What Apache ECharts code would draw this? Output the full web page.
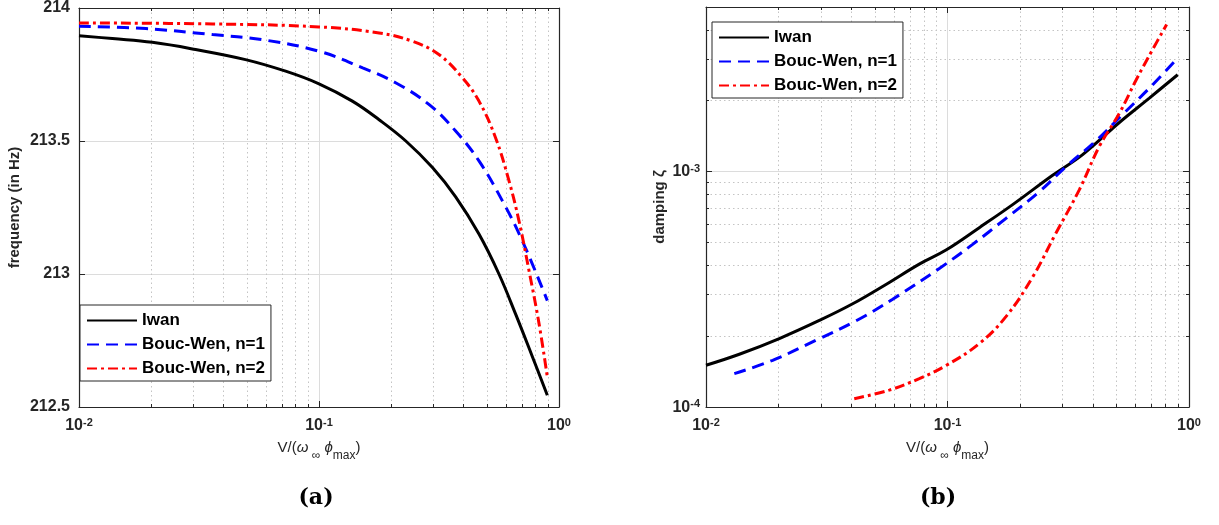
<!DOCTYPE html>
<html><head><meta charset="utf-8">
<script src="https://cdn.jsdelivr.net/npm/echarts@6/dist/echarts.min.js"></script>
<style>html,body{margin:0;padding:0;background:#fff}#c{width:1219px;height:525px}</style>
</head><body><div id="c"></div>
<script>
// ---------- data ----------
const seriesNames = ['Iwan', 'Bouc-Wen, n=1', 'Bouc-Wen, n=2'];

// (a) frequency (Hz) vs V/(w phi_max)
const freqIwanX = [0.01, 0.01377, 0.0202, 0.0306, 0.0494, 0.0726, 0.1, 0.1377, 0.178, 0.23, 0.297, 0.371, 0.464, 0.562, 0.659, 0.774, 0.894];
const freqIwanY = [213.896, 213.885, 213.871, 213.844, 213.806, 213.7625, 213.715, 213.65, 213.58, 213.50, 213.40, 213.29, 213.15, 213.0, 212.85, 212.69, 212.544];
const freqBW1X = [0.01, 0.019, 0.036, 0.058, 0.1, 0.152, 0.2085, 0.287, 0.371, 0.464, 0.581, 0.703, 0.894];
const freqBW1Y = [213.931, 213.9225, 213.90, 213.881, 213.8375, 213.775, 213.719, 213.6375, 213.5375, 213.425, 213.275, 213.125, 212.90];
const freqBW2X = [0.01, 0.036, 0.1, 0.178, 0.245, 0.316, 0.396, 0.464, 0.544, 0.619, 0.681, 0.75, 0.826, 0.894];
const freqBW2Y = [213.944, 213.94, 213.929, 213.906, 213.875, 213.825, 213.7375, 213.65, 213.5125, 213.35, 213.20, 213.0125, 212.8125, 212.6125];

// (b) damping vs V/(w phi_max)
const dampIwanX = [0.01, 0.01374, 0.02012, 0.02947, 0.0405, 0.05562, 0.07641, 0.09858, 0.1354, 0.1861, 0.2725, 0.3628, 0.5147, 0.6851, 0.8977];
const dampIwanY = [1.504e-4, 1.675e-4, 1.953e-4, 2.331e-4, 2.744e-4, 3.316e-4, 4.046e-4, 4.642e-4, 5.778e-4, 7.238e-4, 9.647e-4, 1.181e-3, 1.616e-3, 2.051e-3, 2.578e-3];
const dampBW1X = [0.0131, 0.01888, 0.02854, 0.0418, 0.05929, 0.09252, 0.1271, 0.1747, 0.2401, 0.3096, 0.412, 0.5313, 0.7075, 0.8977];
const dampBW1Y = [1.386e-4, 1.579e-4, 1.921e-4, 2.323e-4, 2.871e-4, 3.879e-4, 4.907e-4, 6.331e-4, 8.22e-4, 1.05e-3, 1.35e-3, 1.748e-3, 2.337e-3, 3.036e-3];
const dampBW2X = [0.0411, 0.0574, 0.0764, 0.0986, 0.1355, 0.1746, 0.2254, 0.281, 0.3513, 0.4254, 0.515, 0.604, 0.707, 0.808];
const dampBW2Y = [1.085e-4, 1.18e-4, 1.32e-4, 1.50e-4, 1.86e-4, 2.42e-4, 3.57e-4, 5.47e-4, 8.36e-4, 1.28e-3, 1.77e-3, 2.45e-3, 3.30e-3, 4.21e-3];

const freqTicks = [212.5, 213, 213.5, 214];
const captions = ['(a)', '(b)'];

// ---------- style ----------
const AX = '#262626';
const FONT = '"Liberation Sans", Arial, sans-serif';
const colors = ['#000000', '#0000ff', '#ff0000'];
const dashes = ['solid', [12, 7], [10, 4, 3, 4]];
const zip = (xs, ys) => xs.map((x, i) => [x, ys[i]]);

const powRich = {
  b: {fontSize: 16, fontWeight: 'bold', color: AX, fontFamily: FONT, lineHeight: 17, verticalAlign: 'bottom'},
  s: {fontSize: 11, fontWeight: 'bold', color: AX, fontFamily: FONT, verticalAlign: 'top', lineHeight: 17}
};
function powFmt(v) {
  const l = Math.log10(v), e = Math.round(l);
  if (Math.abs(l - e) > 1e-6) return '';
  return '{b|10}{s|' + e + '}';
}
const nameRich = {
  t: {fontSize: 15, color: AX, fontFamily: FONT, verticalAlign: 'top', lineHeight: 22},
  i: {fontSize: 15, color: AX, fontFamily: FONT, fontStyle: 'italic', verticalAlign: 'top', lineHeight: 22},
  sub: {fontSize: 12, color: AX, fontFamily: FONT, verticalAlign: 'bottom', lineHeight: 22}
};
const xName = '{t|V/(}{i|ω}{sub| ∞}{t| }{i|ϕ}{sub|max}{t|)}';

const axLine = {show: true, onZero: false, lineStyle: {color: AX, width: 1.2}};
const axTick = {show: true, inside: true, length: 6, lineStyle: {color: AX, width: 1}};
const majorSplit = {show: true, lineStyle: {color: '#dcdcdc', width: 1}};
const minorTk = {show: true, splitNumber: 9, length: 3, lineStyle: {color: AX, width: 1}};
const minorSplit = {show: true, lineStyle: {color: '#c4c4c4', width: 1, type: [1.5, 3]}};

function xBottom(gi) {
  return {type: 'log', logBase: 10, gridIndex: gi, min: 0.01, max: 1, position: 'bottom',
    axisLine: axLine, axisTick: axTick, splitLine: majorSplit, minorTick: minorTk, minorSplitLine: minorSplit,
    axisLabel: {formatter: powFmt, rich: powRich, margin: 10, showMinLabel: true, showMaxLabel: true},
    name: xName, nameLocation: 'middle', nameGap: 33, nameTextStyle: {rich: nameRich}};
}
function xTop(gi) {
  return {type: 'log', logBase: 10, gridIndex: gi, min: 0.01, max: 1, position: 'top',
    axisLine: axLine, axisTick: axTick, splitLine: {show: false}, minorTick: minorTk,
    axisLabel: {show: false}};
}

const option = {
  animation: false,
  backgroundColor: '#fff',
  grid: [
    {left: 79, right: 660, top: 7, bottom: 118, containLabel: false},
    {left: 706, right: 30, top: 7, bottom: 118, containLabel: false}
  ],
  xAxis: [xBottom(0), xTop(0), xBottom(1), xTop(1)],
  yAxis: [
    {type: 'value', gridIndex: 0, min: 212.5, max: 214, interval: 0.5, position: 'left',
      axisLine: axLine, axisTick: axTick, splitLine: majorSplit,
      axisLabel: {color: AX, fontSize: 16, fontWeight: 'bold', fontFamily: FONT, margin: 9,
        formatter: v => freqTicks.indexOf(v) >= 0 ? String(v) : ''},
      name: 'frequency (in Hz)', nameLocation: 'middle', nameGap: 57,
      nameTextStyle: {color: AX, fontSize: 15, fontWeight: 'bold', fontFamily: FONT}},
    {type: 'value', gridIndex: 0, min: 212.5, max: 214, interval: 0.5, position: 'right',
      axisLine: axLine, axisTick: axTick, splitLine: {show: false}, axisLabel: {show: false}},
    {type: 'log', logBase: 10, gridIndex: 1, min: 1e-4, max: 5e-3, position: 'left',
      axisLine: axLine, axisTick: axTick, splitLine: majorSplit, minorTick: minorTk, minorSplitLine: minorSplit,
      axisLabel: {formatter: powFmt, rich: powRich, margin: 6, showMaxLabel: false},
      name: 'damping ζ', nameLocation: 'middle', nameGap: 39,
      nameTextStyle: {color: AX, fontSize: 15, fontWeight: 'bold', fontFamily: FONT}},
    {type: 'log', logBase: 10, gridIndex: 1, min: 1e-4, max: 5e-3, position: 'right',
      axisLine: axLine, axisTick: axTick, splitLine: {show: false}, minorTick: minorTk, axisLabel: {show: false}}
  ],
  legend: [0, 1].map(gi => ({
    data: seriesNames, orient: 'vertical', selectedMode: false,
    left: gi === 0 ? 80 : 712, top: gi === 0 ? 305 : 22,
    padding: [7, 6, 4, 6], itemGap: 7, itemWidth: 50, itemHeight: 16, itemTextGap: 6,
    borderColor: AX, borderWidth: 1, backgroundColor: '#fff',
    itemStyle: {color: 'rgba(0,0,0,0)', borderWidth: 0, opacity: 0},
    textStyle: {color: '#000', fontSize: 17, fontWeight: 'bold', fontFamily: FONT}
  })),
  graphic: captions.map((c, i) => ({
    type: 'text', x: i === 0 ? 316 : 938, y: 498,
    style: {text: c, align: 'center', verticalAlign: 'middle', fill: '#000',
      font: 'bold 22px "DejaVu Serif", "Liberation Serif", serif'}
  })),
  series: []
};

const freqData = [zip(freqIwanX, freqIwanY), zip(freqBW1X, freqBW1Y), zip(freqBW2X, freqBW2Y)];
const dampData = [zip(dampIwanX, dampIwanY), zip(dampBW1X, dampBW1Y), zip(dampBW2X, dampBW2Y)];
[freqData, dampData].forEach((set, gi) => {
  set.forEach((d, k) => {
    option.series.push({
      type: 'line', name: seriesNames[k], xAxisIndex: gi * 2, yAxisIndex: gi * 2,
      data: d, smooth: 0.4, symbol: 'none', showSymbol: false, z: 3 + k, clip: true,
      lineStyle: {color: colors[k], width: 3, type: dashes[k]},
      itemStyle: {color: colors[k]}
    });
  });
});

const chart = echarts.init(document.getElementById('c'), null, {renderer: 'canvas'});
chart.setOption(option);
</script>
</body></html>
